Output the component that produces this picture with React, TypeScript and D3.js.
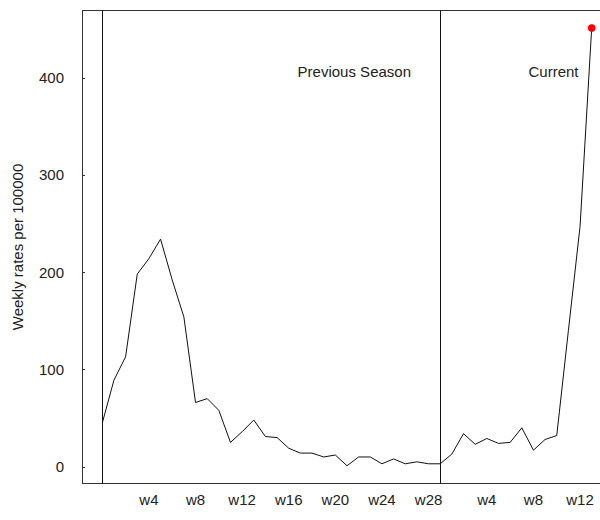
import React from "react";
import * as d3 from "d3";

const previousSeason = [45, 89, 113, 198, 214, 234, 192, 154, 66, 70, 58, 25, 36, 48, 31, 30, 19, 14, 14, 10, 12, 1, 10, 10, 3, 8, 3, 5, 3, 3];
const currentSeason = [13, 34, 23, 29, 24, 25, 40, 17, 28, 32, 140, 247, 451];
const previousTickWeeks = [4, 8, 12, 16, 20, 24, 28];
const currentTickWeeks = [4, 8, 12];
const yTicks = [0, 100, 200, 300, 400];
const yLabel = "Weekly rates per 100000";
const previousLabel = "Previous Season";
const currentLabel = "Current";

const W = 600;
const H = 520;
const frame = { left: 82.5, top: 10.5, right: 640, bottom: 483.5 };
const FONT = "'Liberation Sans', Arial, Helvetica, sans-serif";

export default function App() {
  const series = [...previousSeason, ...currentSeason];
  const boundary = previousSeason.length - 1;
  const x = d3.scaleLinear().domain([0, series.length - 1]).range([102.3, 591.7]);
  const y = d3.scaleLinear().domain([0, 400]).range([466.7, 77.7]);
  const line = d3
    .line<number>()
    .x((_, i) => x(i))
    .y((d) => y(d));
  const lastIdx = series.length - 1;
  const fs = 15;
  return (
    <svg
      width={W}
      height={H}
      style={{ position: "absolute", left: 0, top: 0, background: "#fff" }}
      fontFamily={FONT}
    >
      <rect x={0} y={0} width={W} height={H} fill="#fff" />
      <rect
        x={frame.left}
        y={frame.top}
        width={frame.right - frame.left}
        height={frame.bottom - frame.top}
        fill="none"
        stroke="#333"
        strokeWidth={1}
      />
      {yTicks.map((t) => (
        <g key={t}>
          <line x1={frame.left} x2={frame.left + 2.5} y1={Math.round(y(t)) + 0.5} y2={Math.round(y(t)) + 0.5} stroke="#333" />
          <text x={64} y={y(t)} dy="0.36em" textAnchor="end" fontSize={fs} fill="#222">
            {t}
          </text>
        </g>
      ))}
      <text
        transform={`translate(23,${(frame.top + frame.bottom) / 2}) rotate(-90)`}
        textAnchor="middle"
        fontSize={fs}
        fill="#222"
      >
        {yLabel}
      </text>
      {previousTickWeeks.map((w) => (
        <text key={"p" + w} x={x(w)} y={505} textAnchor="middle" fontSize={fs} fill="#222">
          {"w" + w}
        </text>
      ))}
      {currentTickWeeks.map((w) => (
        <text key={"c" + w} x={x(boundary + w)} y={505} textAnchor="middle" fontSize={fs} fill="#222">
          {"w" + w}
        </text>
      ))}
      <line x1={Math.round(x(0)) + 0.5} x2={Math.round(x(0)) + 0.5} y1={frame.top} y2={frame.bottom} stroke="#111" />
      <line x1={Math.round(x(boundary)) + 0.5} x2={Math.round(x(boundary)) + 0.5} y1={frame.top} y2={frame.bottom} stroke="#111" />
      <path d={line(series) || ""} fill="none" stroke="#111" strokeWidth={1} strokeLinejoin="round" />
      <circle cx={x(lastIdx)} cy={y(series[lastIdx])} r={3.8} fill="#ff0000" />
      <text x={411} y={77} textAnchor="end" fontSize={fs} fill="#222">
        {previousLabel}
      </text>
      <text x={578.5} y={77} textAnchor="end" fontSize={fs} fill="#222">
        {currentLabel}
      </text>
    </svg>
  );
}
